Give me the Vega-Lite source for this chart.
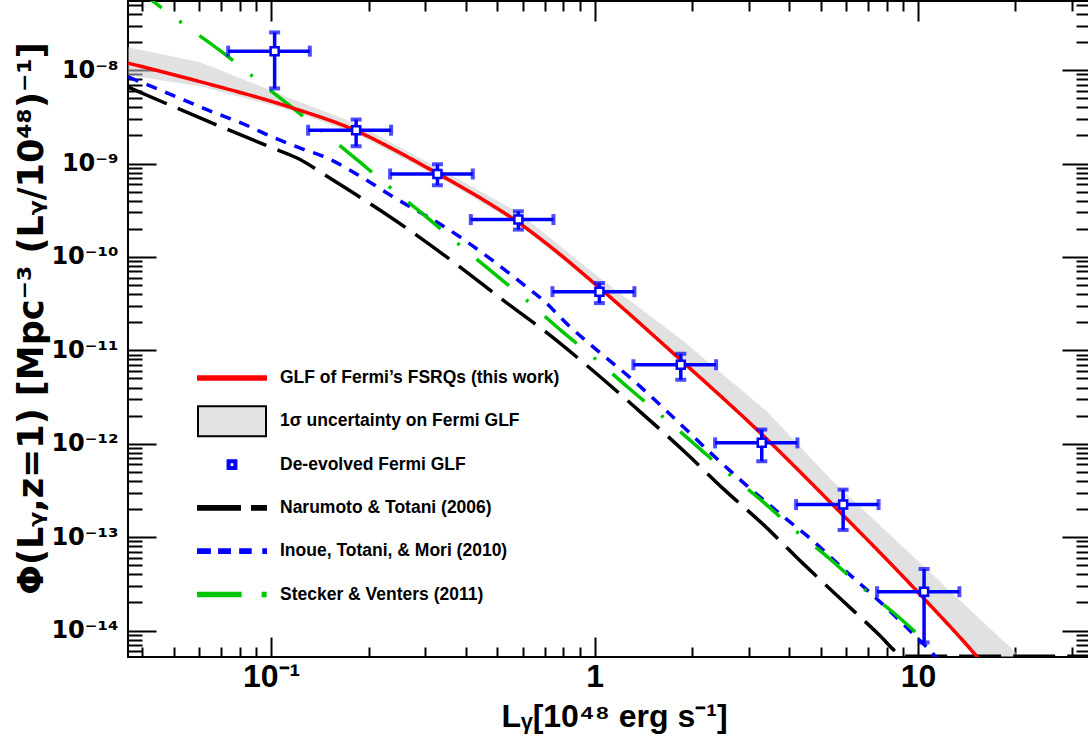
{
  "$schema": "https://vega.github.io/schema/vega-lite/v6.json",
  "width": 962,
  "height": 656,
  "autosize": {"type": "none"},
  "padding": {"left": 128, "top": 1, "right": 0, "bottom": 83},
  "background": "white",
  "config": {
    "view": {"stroke": "#000000", "strokeWidth": 2},
    "axis": {"domain": false, "grid": false, "ticks": true, "tickColor": "#000000", "tickWidth": 2, "labelColor": "#000000", "titleColor": "#000000"}
  },
  "datasets": {
    "curves": [
      {"s": "black", "x": 0.03613, "y": 6.574e-9},
      {"s": "black", "x": 0.04953, "y": 4.112e-9},
      {"s": "black", "x": 0.07022, "y": 2.467e-9},
      {"s": "black", "x": 0.10021, "y": 1.484e-9},
      {"s": "black", "x": 0.12118, "y": 1.132e-9},
      {"s": "black", "x": 0.15004, "y": 7.184e-10},
      {"s": "black", "x": 0.21728, "y": 3.158e-10},
      {"s": "black", "x": 0.28208, "y": 1.703e-10},
      {"s": "black", "x": 0.38386, "y": 7.79e-11},
      {"s": "black", "x": 0.52251, "y": 3.425e-11},
      {"s": "black", "x": 0.70302, "y": 1.594e-11},
      {"s": "black", "x": 0.946, "y": 6.892e-12},
      {"s": "black", "x": 1.3504, "y": 2.367e-12},
      {"s": "black", "x": 1.9049, "y": 8.11e-13},
      {"s": "black", "x": 2.5013, "y": 3.285e-13},
      {"s": "black", "x": 3.3255, "y": 1.361e-13},
      {"s": "black", "x": 4.3706, "y": 5.37e-14},
      {"s": "black", "x": 5.7693, "y": 2.176e-14},
      {"s": "black", "x": 7.6296, "y": 8.795e-15},
      {"s": "black", "x": 8.5944, "y": 5.824e-15},
      {"s": "black", "x": 8.9885, "y": 5.3e-15},
      {"s": "black", "x": 34, "y": 5.3e-15},
      {"s": "blue", "x": 0.03613, "y": 8.478e-9},
      {"s": "blue", "x": 0.04496, "y": 6.211e-9},
      {"s": "blue", "x": 0.06386, "y": 3.725e-9},
      {"s": "blue", "x": 0.08293, "y": 2.618e-9},
      {"s": "blue", "x": 0.10021, "y": 1.942e-9},
      {"s": "blue", "x": 0.12406, "y": 1.448e-9},
      {"s": "blue", "x": 0.15004, "y": 1.132e-9},
      {"s": "blue", "x": 0.19016, "y": 7.184e-10},
      {"s": "blue", "x": 0.23877, "y": 4.385e-10},
      {"s": "blue", "x": 0.27532, "y": 3.293e-10},
      {"s": "blue", "x": 0.3252, "y": 2.366e-10},
      {"s": "blue", "x": 0.38386, "y": 1.634e-10},
      {"s": "blue", "x": 0.47532, "y": 9.589e-11},
      {"s": "blue", "x": 0.61718, "y": 4.756e-11},
      {"s": "blue", "x": 0.69453, "y": 3.425e-11},
      {"s": "blue", "x": 0.82061, "y": 1.928e-11},
      {"s": "blue", "x": 0.99149, "y": 1.082e-11},
      {"s": "blue", "x": 1.3181, "y": 4.757e-12},
      {"s": "blue", "x": 1.8379, "y": 1.634e-12},
      {"s": "blue", "x": 2.3298, "y": 7.472e-13},
      {"s": "blue", "x": 2.9545, "y": 3.564e-13},
      {"s": "blue", "x": 3.745, "y": 1.773e-13},
      {"s": "blue", "x": 4.637, "y": 9.7e-14},
      {"s": "blue", "x": 5.8776, "y": 4.561e-14},
      {"s": "blue", "x": 7.2758, "y": 2.36e-14},
      {"s": "blue", "x": 9.2291, "y": 1.079e-14},
      {"s": "blue", "x": 10.143, "y": 7.774e-15},
      {"s": "blue", "x": 11.15, "y": 5.598e-15},
      {"s": "blue", "x": 11.8, "y": 4.4e-15},
      {"s": "green", "x": 0.03613, "y": 8.67e-8},
      {"s": "green", "x": 0.04265, "y": 5.626e-8},
      {"s": "green", "x": 0.0541, "y": 3.035e-8},
      {"s": "green", "x": 0.07072, "y": 1.548e-8},
      {"s": "green", "x": 0.09005, "y": 7.947e-9},
      {"s": "green", "x": 0.11612, "y": 3.983e-9},
      {"s": "green", "x": 0.14655, "y": 2.097e-9},
      {"s": "green", "x": 0.18934, "y": 1.015e-9},
      {"s": "green", "x": 0.23877, "y": 5.176e-10},
      {"s": "green", "x": 0.30632, "y": 2.574e-10},
      {"s": "green", "x": 0.38386, "y": 1.331e-10},
      {"s": "green", "x": 0.49256, "y": 6.51e-11},
      {"s": "green", "x": 0.61718, "y": 3.425e-11},
      {"s": "green", "x": 0.79169, "y": 1.606e-11},
      {"s": "green", "x": 0.99149, "y": 8.454e-12},
      {"s": "green", "x": 1.272, "y": 3.974e-12},
      {"s": "green", "x": 1.5942, "y": 2.056e-12},
      {"s": "green", "x": 2.045, "y": 9.805e-13},
      {"s": "green", "x": 2.5627, "y": 4.949e-13},
      {"s": "green", "x": 3.2867, "y": 2.461e-13},
      {"s": "green", "x": 4.1171, "y": 1.224e-13},
      {"s": "green", "x": 5.2812, "y": 6.03e-14},
      {"s": "green", "x": 6.6174, "y": 3.021e-14},
      {"s": "green", "x": 8.4909, "y": 1.503e-14},
      {"s": "green", "x": 10.639, "y": 7.456e-15},
      {"s": "red", "x": 0.03613, "y": 1.189e-8},
      {"s": "red", "x": 0.0603, "y": 7.527e-9},
      {"s": "red", "x": 0.1145, "y": 4.01e-9},
      {"s": "red", "x": 0.1818, "y": 2.27e-9},
      {"s": "red", "x": 0.2505, "y": 1.3e-9},
      {"s": "red", "x": 0.3258, "y": 7.87e-10},
      {"s": "red", "x": 0.4036, "y": 5.18e-10},
      {"s": "red", "x": 0.5801, "y": 2.35e-10},
      {"s": "red", "x": 0.7444, "y": 1.221e-10},
      {"s": "red", "x": 1.04, "y": 4.607e-11},
      {"s": "red", "x": 1.838, "y": 7.987e-12},
      {"s": "red", "x": 3.318, "y": 1.224e-12},
      {"s": "red", "x": 5.461, "y": 2.203e-13},
      {"s": "red", "x": 10.436, "y": 2.192e-14},
      {"s": "red", "x": 15.22, "y": 5.24e-15},
      {"s": "red", "x": 19.25, "y": 1.93e-15}
    ],
    "band": [
      {"x": 0.03613, "lo": 8.84e-9, "hi": 1.764e-8},
      {"x": 0.0603, "lo": 6.74e-9, "hi": 1.218e-8},
      {"x": 0.1145, "lo": 3.73e-9, "hi": 5.01e-9},
      {"x": 0.1818, "lo": 2.11e-9, "hi": 2.7e-9},
      {"x": 0.3258, "lo": 7.31e-10, "hi": 9.13e-10},
      {"x": 0.5801, "lo": 2.25e-10, "hi": 3.01e-10},
      {"x": 1.04, "lo": 4.4e-11, "hi": 5.9e-11},
      {"x": 1.838, "lo": 7.6e-12, "hi": 1.34e-11},
      {"x": 3.414, "lo": 1.1e-12, "hi": 2.21e-12},
      {"x": 5.461, "lo": 2.1e-13, "hi": 3.93e-13},
      {"x": 10.36, "lo": 2.2e-14, "hi": 4.95e-14},
      {"x": 15.22, "lo": 5.0e-15, "hi": 1.41e-14},
      {"x": 20.23, "lo": 1.6e-15, "hi": 5.64e-15},
      {"x": 27.48, "lo": 6e-16, "hi": 2.1e-15}
    ],
    "pts": [
      {"x": 0.10252, "xlo": 0.07364, "xhi": 0.13171, "y": 1.598e-8, "ylo": 6.368e-9, "yhi": 2.536e-8},
      {"x": 0.18313, "xlo": 0.13012, "xhi": 0.2349, "y": 2.275e-9, "ylo": 1.532e-9, "yhi": 2.962e-9},
      {"x": 0.32666, "xlo": 0.23323, "xhi": 0.42015, "y": 7.735e-10, "ylo": 5.853e-10, "yhi": 9.829e-10},
      {"x": 0.58131, "xlo": 0.41421, "xhi": 0.74597, "y": 2.511e-10, "ylo": 1.962e-10, "yhi": 3.082e-10},
      {"x": 1.0348, "xlo": 0.74067, "xhi": 1.3275, "y": 4.246e-11, "ylo": 3.205e-11, "yhi": 5.252e-11},
      {"x": 1.847, "xlo": 1.3181, "xhi": 2.3751, "y": 7.012e-12, "ylo": 4.841e-12, "yhi": 9.196e-12},
      {"x": 3.2867, "xlo": 2.3582, "xhi": 4.2355, "y": 1.022e-12, "ylo": 6.494e-13, "yhi": 1.419e-12},
      {"x": 5.8649, "xlo": 4.1964, "xhi": 7.5488, "y": 2.231e-13, "ylo": 1.194e-13, "yhi": 3.229e-13},
      {"x": 10.436, "xlo": 7.4686, "xhi": 13.418, "y": 2.604e-14, "ylo": 7.456e-15, "yhi": 4.561e-14}
    ]
  },
  "layer": [
    {
      "data": {"name": "band"},
      "mark": {"type": "area", "clip": true, "color": "#c8c8c8", "opacity": 0.55},
      "encoding": {
        "x": {
          "field": "x", "type": "quantitative",
          "scale": {"type": "log", "domain": [0.0361, 34], "nice": false},
          "axis": {"orient": "top", "labels": false, "title": null, "offset": -20, "tickSize": 20, "values": [0.1, 1, 10]}
        },
        "y": {
          "field": "lo", "type": "quantitative",
          "scale": {"type": "log", "domain": [5.21e-15, 5.5e-8], "nice": false},
          "axis": {"orient": "right", "labels": false, "title": null, "offset": -28, "tickSize": 28, "values": [1e-14, 1e-13, 1e-12, 1e-11, 1e-10, 1e-9, 1e-8]}
        },
        "y2": {"field": "hi"}
      }
    },
    {
      "data": {"name": "curves"},
      "mark": {"type": "line", "clip": true, "strokeWidth": 3.5, "interpolate": "monotone"},
      "encoding": {
        "x": {
          "field": "x", "type": "quantitative",
          "scale": {"type": "log", "domain": [0.0361, 34], "nice": false},
          "axis": {
            "orient": "bottom", "offset": -20, "tickSize": 20, "values": [0.1, 1, 10],
            "labelExpr": "datum.value == 0.1 ? '10⁻¹' : datum.value == 1 ? '1' : '10'",
            "labelFont": "Liberation Sans", "labelFontWeight": "bold", "labelFontSize": 32, "labelPadding": 4,
            "labelOverlap": false, "labelFlush": false, "labelBound": false,
            "title": "Lᵧ[10⁴⁸ erg s⁻¹]", "titleFont": "Liberation Sans", "titleFontWeight": "bold", "titleFontSize": 32,
            "titleBaseline": "alphabetic", "titleAlign": "center", "titleX": 486, "titleY": 89
          }
        },
        "y": {
          "field": "y", "type": "quantitative",
          "scale": {"type": "log", "domain": [5.21e-15, 5.5e-8], "nice": false},
          "axis": {
            "orient": "left", "offset": -28, "tickSize": 28, "values": [1e-14, 1e-13, 1e-12, 1e-11, 1e-10, 1e-9, 1e-8],
            "labelExpr": "datum.value == 1e-8 ? '10⁻⁸' : datum.value == 1e-9 ? '10⁻⁹' : datum.value == 1e-10 ? '10⁻¹⁰' : datum.value == 1e-11 ? '10⁻¹¹' : datum.value == 1e-12 ? '10⁻¹²' : datum.value == 1e-13 ? '10⁻¹³' : '10⁻¹⁴'",
            "labelFont": "DejaVu Sans", "labelFontWeight": "bold", "labelFontSize": 24, "labelPadding": 10,
            "labelOverlap": false, "labelFlush": false, "labelBound": false, "labelBaseline": "middle",
            "title": "Φ(Lᵧ,z=1) [Mpc⁻³ (Lᵧ/10⁴⁸)⁻¹]", "titleFont": "DejaVu Sans", "titleFontWeight": "bold", "titleFontSize": 35,
            "titleAngle": -90, "titleBaseline": "alphabetic", "titleAlign": "center", "titleX": -114, "titleY": 317
          }
        },
        "color": {
          "field": "s", "type": "nominal",
          "scale": {"domain": ["red", "band", "pts", "black", "blue", "green"], "range": ["#ff0000", "#000000", "#0000ff", "#000000", "#0000ff", "#00c800"]},
          "legend": {
            "orient": "none", "legendX": 69, "legendY": 360, "direction": "vertical", "title": null, "padding": 0,
            "symbolType": "stroke", "symbolSize": 4624, "symbolStrokeWidth": 2, "clipHeight": 34,
            "labelFont": "Liberation Sans", "labelFontSize": 17.5, "labelFontWeight": "bold", "labelColor": "#000000",
            "labelOffset": 13, "labelLimit": 600, "rowPadding": 9.3, "gridAlign": "all",
            "labelExpr": "datum.value == 'red' ? 'GLF of Fermi’s FSRQs (this work)' : datum.value == 'band' ? '1σ uncertainty on  Fermi GLF' : datum.value == 'pts' ? 'De-evolved Fermi GLF' : datum.value == 'black' ? 'Narumoto & Totani (2006)' : datum.value == 'blue' ? 'Inoue, Totani, & Mori (2010)' : 'Stecker & Venters (2011)'",
            "encode": {
              "symbols": {
                "update": {
                  "shape": {"signal": "datum.value == 'band' ? 'M-1,-0.44H1V0.44H-1Z' : datum.value == 'pts' ? 'M-0.13,-0.13H0.13V0.13H-0.13Z M-0.07,-0.07V0.07H0.07V-0.07Z' : datum.value == 'black' ? 'M-1,-0.055H0.235V0.055H-1Z M0.588,-0.055H1V0.055H0.588Z' : datum.value == 'blue' ? 'M-1,-0.055H-0.65V0.055H-1Z M-0.38,-0.055H-0.06V0.055H-0.38Z M0.24,-0.055H0.55V0.055H0.24Z M0.92,-0.055H1V0.055H0.92Z' : datum.value == 'green' ? 'M-1,-0.055H0.255V0.055H-1Z M0.9,-0.055H0.99V0.055H0.9Z' : 'M-1,-0.055H1V0.055H-1Z'"},
                  "fill": {"signal": "datum.value == 'band' ? '#e2e2e2' : scale('color', datum.value)"},
                  "stroke": {"signal": "datum.value == 'band' ? '#000000' : 'transparent'"},
                  "fillOpacity": {"value": 1},
                  "strokeOpacity": {"value": 1},
                  "opacity": {"value": 1}
                }
              }
            }
          }
        },
        "strokeDash": {
          "field": "s", "type": "nominal",
          "scale": {"domain": ["red", "black", "blue", "green"], "range": [[1, 0], [42, 12], [11, 9], [42, 22, 3, 22]]},
          "legend": null
        }
      }
    },
    {
      "data": {"name": "pts"},
      "mark": {"type": "errorbar", "ticks": {"size": 11, "thickness": 4}, "thickness": 3.5, "color": "#0000ff"},
      "encoding": {
        "x": {"field": "xlo", "type": "quantitative", "scale": {"type": "log", "domain": [0.0361, 34], "nice": false},
          "axis": {"orient": "bottom", "labels": false, "title": null, "offset": -10, "tickSize": 10, "values": [0.04,0.05,0.06,0.07,0.08,0.09,0.2,0.3,0.4,0.5,0.6,0.7,0.8,0.9,2,3,4,5,6,7,8,9,20,30]}},
        "x2": {"field": "xhi"},
        "y": {"field": "y", "type": "quantitative", "scale": {"type": "log", "domain": [5.21e-15, 5.5e-8], "nice": false},
          "axis": {"orient": "left", "labels": false, "title": null, "offset": -14, "tickSize": 14, "values": [6e-15,7e-15,8e-15,9e-15,2e-14,3e-14,4e-14,5e-14,6e-14,7e-14,8e-14,9e-14,2e-13,3e-13,4e-13,5e-13,6e-13,7e-13,8e-13,9e-13,2e-12,3e-12,4e-12,5e-12,6e-12,7e-12,8e-12,9e-12,2e-11,3e-11,4e-11,5e-11,6e-11,7e-11,8e-11,9e-11,2e-10,3e-10,4e-10,5e-10,6e-10,7e-10,8e-10,9e-10,2e-9,3e-9,4e-9,5e-9,6e-9,7e-9,8e-9,9e-9,2e-8,3e-8,4e-8,5e-8]}}
      }
    },
    {
      "data": {"name": "pts"},
      "mark": {"type": "errorbar", "ticks": {"size": 11, "thickness": 4}, "thickness": 3.5, "color": "#0000ff"},
      "encoding": {
        "x": {"field": "x", "type": "quantitative", "scale": {"type": "log", "domain": [0.0361, 34], "nice": false},
          "axis": {"orient": "top", "labels": false, "title": null, "offset": -10, "tickSize": 10, "values": [0.04,0.05,0.06,0.07,0.08,0.09,0.2,0.3,0.4,0.5,0.6,0.7,0.8,0.9,2,3,4,5,6,7,8,9,20,30]}},
        "y": {"field": "ylo", "type": "quantitative", "scale": {"type": "log", "domain": [5.21e-15, 5.5e-8], "nice": false},
          "axis": {"orient": "right", "labels": false, "title": null, "offset": -14, "tickSize": 14, "values": [6e-15,7e-15,8e-15,9e-15,2e-14,3e-14,4e-14,5e-14,6e-14,7e-14,8e-14,9e-14,2e-13,3e-13,4e-13,5e-13,6e-13,7e-13,8e-13,9e-13,2e-12,3e-12,4e-12,5e-12,6e-12,7e-12,8e-12,9e-12,2e-11,3e-11,4e-11,5e-11,6e-11,7e-11,8e-11,9e-11,2e-10,3e-10,4e-10,5e-10,6e-10,7e-10,8e-10,9e-10,2e-9,3e-9,4e-9,5e-9,6e-9,7e-9,8e-9,9e-9,2e-8,3e-8,4e-8,5e-8]}},
        "y2": {"field": "yhi"}
      }
    },
    {
      "data": {"name": "pts"},
      "mark": {"type": "point", "shape": "square", "filled": true, "fill": "#ffffff", "stroke": "#0000ff", "strokeWidth": 2.5, "size": 64, "opacity": 1},
      "encoding": {
        "x": {"field": "x", "type": "quantitative", "scale": {"type": "log", "domain": [0.0361, 34], "nice": false}, "axis": null},
        "y": {"field": "y", "type": "quantitative", "scale": {"type": "log", "domain": [5.21e-15, 5.5e-8], "nice": false}, "axis": null}
      }
    }
  ],
  "resolve": {"axis": {"x": "independent", "y": "independent"}}
}
